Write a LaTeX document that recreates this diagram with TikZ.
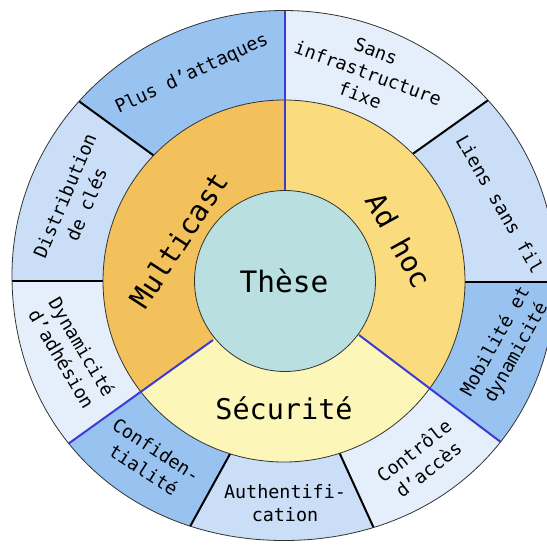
\documentclass[tikz,border=0pt]{standalone}
\usepackage{fontspec}
\setmonofont{DejaVu Sans Mono}
\usetikzlibrary{calc}

\definecolor{core}{RGB}{185,223,224}
\definecolor{multi}{RGB}{243,193,91}
\definecolor{adhoc}{RGB}{250,220,126}
\definecolor{secu}{RGB}{252,247,185}
\definecolor{bluedark}{RGB}{152,194,240}
\definecolor{bluemid}{RGB}{202,223,247}
\definecolor{bluelight}{RGB}{228,239,251}
\definecolor{splitblue}{RGB}{60,60,210}

\tikzset{
  divider/.style={line width=2pt, black},
  splitline/.style={line width=2pt, splitblue},
  rim/.style={line width=0.8pt, black!80},
  seglabel/.style={font=\ttfamily\fontsize{18.4}{23.5}\selectfont, align=center},
  ringlabel/.style={font=\ttfamily\fontsize{28.5}{30}\selectfont},
}

% outer rim of the diagram
\def\rimpath{(12,275.5) .. controls (12,129.1) and (133.8,10.5) .. (284,10.5)
  .. controls (434.2,10.5) and (556,129.1) .. (556,275.5)
  .. controls (556,429.2) and (441.8,540.5) .. (284,540.5)
  .. controls (126.2,540.5) and (12,429.2) .. cycle}

\begin{document}
\begin{tikzpicture}[x=1pt,y=-1pt]
    \useasboundingbox (0,0) rectangle (547,547);
    \fill[white] (0,0) rectangle (547,547);

    % centre and dividers (inner end, outer end)
    \coordinate (C) at (284,281);
    \coordinate (d1in) at (285,190.5); \coordinate (d1out) at (285,11);
    \coordinate (d2in) at (414,153); \coordinate (d2out) at (487,101);
    \coordinate (d3in) at (466,282); \coordinate (d3out) at (556,282);
    \coordinate (d4in) at (359,335); \coordinate (d4out) at (502,443);
    \coordinate (d5in) at (340,454); \coordinate (d5out) at (377,535);
    \coordinate (d6in) at (230,454); \coordinate (d6out) at (187,532);
    \coordinate (d7in) at (213,340); \coordinate (d7out) at (68,444);
    \coordinate (d8in) at (102,281); \coordinate (d8out) at (12,281);
    \coordinate (d9in) at (153,155); \coordinate (d9out) at (80,102);
    \foreach \d in {d1,d2,d3,d4,d5,d6,d7,d8,d9} {
        \coordinate (\d a) at ($(\d out)!1.4!(\d in)$);
        \coordinate (\d z) at ($(\d in)!5!(\d out)$);
    }

    \begin{scope}
        \clip \rimpath;
        % outer segments
        \foreach \p/\q/\c in {d1/d2/bluelight, d2/d3/bluemid, d3/d4/bluedark,
                d4/d5/bluelight, d5/d6/bluemid, d6/d7/bluedark,
                d7/d8/bluelight, d8/d9/bluemid, d9/d1/bluedark}
            \fill[\c] (\p a) -- (\p z) -- (\q z) -- (\q a) -- (C) -- cycle;
        \foreach \d in {d2,d3,d5,d6,d8,d9}
            \draw[divider] (\d a) -- (\d z);

        % middle ring
        \begin{scope}
            \clip (284,281) circle[radius=181pt];
            \fill[multi] (d1a) -- (d1z) -- (d9z) -- (d8z) -- (d7z) -- (d7a) -- (C) -- cycle;
            \fill[adhoc] (d1a) -- (d1z) -- (d2z) -- (d3z) -- (d4z) -- (d4a) -- (C) -- cycle;
            \fill[secu] (d4a) -- (d4z) -- (d5z) -- (d6z) -- (d7z) -- (d7a) -- (C) -- cycle;
        \end{scope}
        \draw[rim] (284,281) circle[radius=181pt];
        \foreach \d in {d1,d4,d7}
            \draw[splitline] (\d in) -- (\d z);

        % centre
        \fill[core] (285,281) circle[radius=90.5pt];
        \draw[rim] (285,281) circle[radius=90.5pt];
    \end{scope}
    \draw[rim] \rimpath;

    % labels
    \node[seglabel, rotate=25] (attaques) at (192,74) {Plus d’attaques};
    \node[seglabel, rotate=-20] (infra) at (368,73) {Sans\\infrastructure\\fixe};
    \node[seglabel, rotate=-60] (liens) at (500,204) {Liens sans fil};
    \node[seglabel, rotate=61] (mobilite) at (506,347) {Mobilité et\\dynamicité};
    \node[seglabel, rotate=38] (acces) at (421,460) {Contrôle\\d’accès};
    \node[seglabel] (authent) at (285,503) {Authentifi-\\cation};
    \node[seglabel, rotate=-33] (confid) at (150,460) {Confiden-\\tialité};
    \node[seglabel, rotate=-59.5] (adhesion) at (72,353) {Dynamicité\\d’adhésion};
    \node[seglabel, rotate=67] (cles) at (75.5,200) {Distribution\\de clés};
    \node[ringlabel, rotate=57] (multicast) at (179,240) {Multicast};
    \node[ringlabel, rotate=-61] (adhocl) at (399,240) {Ad hoc};
    \node[ringlabel] (securite) at (284,408) {Sécurité};
    \node[ringlabel, font=\ttfamily\fontsize{29.5}{30}\selectfont] (these) at (284,281) {Thèse};
\end{tikzpicture}
\end{document}
